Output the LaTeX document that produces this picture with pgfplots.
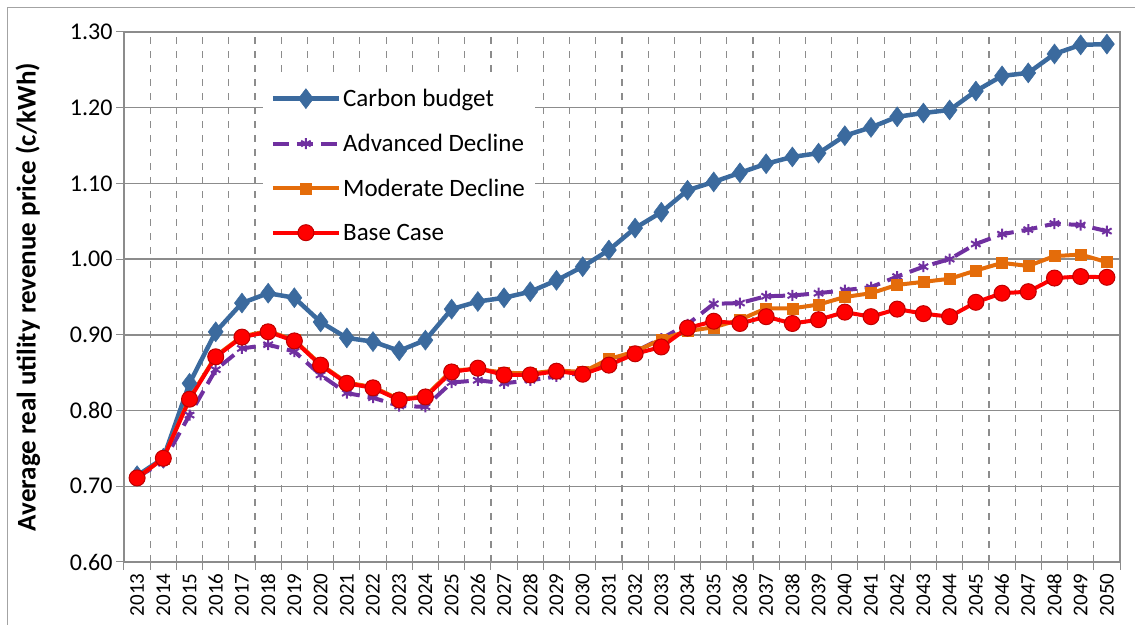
\documentclass[border=0pt]{standalone}
\usepackage{pgfplots}
\pgfplotsset{compat=1.18}
\usepackage{fontspec}
\setmainfont{Carlito}

\definecolor{cbBlue}{HTML}{3B6A9E}
\definecolor{adPurple}{HTML}{7030A0}
\definecolor{mdOrange}{HTML}{E46C0A}
\definecolor{bcRed}{HTML}{FF0000}
\definecolor{gridGray}{HTML}{8C8C8C}

\pgfplotstableread{
year carbon advanced moderate base
2013 0.714 0.712 0.711 0.711
2014 0.737 0.732 0.737 0.737
2015 0.836 0.794 0.816 0.815
2016 0.904 0.854 0.872 0.871
2017 0.942 0.882 0.898 0.897
2018 0.955 0.887 0.905 0.904
2019 0.949 0.878 0.893 0.892
2020 0.917 0.847 0.861 0.860
2021 0.896 0.823 0.837 0.836
2022 0.891 0.817 0.831 0.830
2023 0.879 0.806 0.815 0.814
2024 0.893 0.805 0.819 0.818
2025 0.934 0.837 0.853 0.851
2026 0.944 0.840 0.855 0.856
2027 0.949 0.836 0.850 0.847
2028 0.957 0.840 0.849 0.847
2029 0.972 0.845 0.853 0.852
2030 0.990 0.850 0.851 0.848
2031 1.012 0.865 0.868 0.860
2032 1.041 0.878 0.878 0.875
2033 1.062 0.895 0.894 0.884
2034 1.091 0.914 0.905 0.909
2035 1.102 0.941 0.910 0.918
2036 1.114 0.942 0.920 0.915
2037 1.126 0.951 0.935 0.924
2038 1.135 0.952 0.935 0.915
2039 1.140 0.955 0.940 0.920
2040 1.163 0.959 0.950 0.930
2041 1.174 0.963 0.955 0.924
2042 1.188 0.977 0.966 0.934
2043 1.193 0.990 0.970 0.928
2044 1.197 1.000 0.974 0.924
2045 1.222 1.020 0.985 0.943
2046 1.242 1.033 0.995 0.955
2047 1.246 1.039 0.991 0.957
2048 1.271 1.047 1.004 0.975
2049 1.283 1.045 1.006 0.977
2050 1.284 1.037 0.996 0.976
}\pricedata

\begin{document}
\begin{tikzpicture}
\begin{axis}[
    scale only axis,
    width=996pt,
    height=530pt,
    xmin=2012.5, xmax=2050.5,
    ymin=0.6, ymax=1.3,
    xtick={2013,...,2050},
    minor xtick={2012.5,2013.5,...,2050.5},
    ytick={0.6,0.7,...,1.31},
    major x tick style={draw=none},
    minor tick length=8pt,
    major tick length=8pt,
    tick align=outside,
    tick style={gridGray, line width=1pt},
    xtick pos=bottom, ytick pos=left,
    xticklabel style={rotate=90, anchor=east, font=\fontsize{21}{21}\selectfont, /pgf/number format/1000 sep={}},
    yticklabel style={font=\fontsize{24}{24}\selectfont, /pgf/number format/.cd, fixed, fixed zerofill, precision=2},
    /pgf/number format/assume math mode=true,
    ymajorgrids,
    minor x grid style={gridGray, line width=1.2pt, dash pattern=on 7pt off 7pt},
    xminorgrids,
    major grid style={gridGray, line width=1.4pt},
    axis line style={gridGray, line width=1.4pt},
    ylabel={\textbf{Average real utility revenue price (c/kWh)}},
    ylabel style={font=\fontsize{27}{27}\selectfont, at={(axis description cs:0,0.5)}, anchor=center, yshift=96pt},
    legend style={at={(0.139,0.915)}, anchor=north west, draw=none, fill=white,
        font=\fontsize{25}{25}\selectfont, row sep=22pt, inner xsep=8pt, inner ysep=10pt},
    legend cell align=left,
    legend image code/.code={\draw[mark repeat=2, mark phase=2, #1] plot coordinates {(0pt,0pt) (33pt,0pt) (66pt,0pt)};},
    clip=false,
]
\addplot[cbBlue, line width=4.5pt, mark=diamond*, mark size=10pt, mark options={solid, fill=cbBlue, draw=cbBlue, line width=0.5pt}]
    table[x=year, y=carbon] {\pricedata};
\addplot[adPurple, line width=4pt, dash pattern=on 16pt off 8pt, mark=asterisk, mark size=5.5pt, mark options={solid, line width=2pt}]
    table[x=year, y=advanced] {\pricedata};
\addplot[mdOrange, line width=4pt, mark=square*, mark size=5.5pt, mark options={solid, fill=mdOrange, draw=mdOrange, line width=0.5pt}]
    table[x=year, y=moderate] {\pricedata};
\addplot[bcRed, line width=4pt, mark=*, mark size=8pt, mark options={solid, fill=bcRed, draw=red!75!black, line width=1pt}]
    table[x=year, y=base] {\pricedata};
\legend{Carbon budget, Advanced Decline, Moderate Decline, Base Case}
\end{axis}
\draw[gridGray!80, line width=1pt] ([shift={(-116pt,-70pt)}]current axis.south west) -- ([shift={(-116pt,24pt)}]current axis.north west) -- ([shift={(30pt,24pt)}]current axis.north east);
\pgfresetboundingbox
\path ([shift={(-124pt,-63pt)}]current axis.south west) rectangle ([shift={(15pt,32pt)}]current axis.north east);
\end{tikzpicture}
\end{document}
